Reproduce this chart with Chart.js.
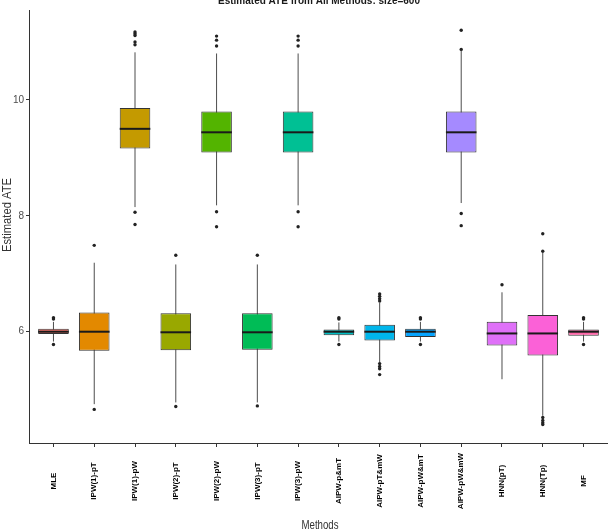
<!DOCTYPE html>
<html>
<head>
<meta charset="utf-8">
<script src="https://cdn.jsdelivr.net/npm/chart.js@4.4.0/dist/chart.umd.min.js"></script>
<style>
  html, body { margin: 0; padding: 0; background: #fff; overflow: hidden; }
  #wrap { position: relative; width: 612px; height: 540px; }
</style>
</head>
<body>
<div id="wrap"><canvas id="myChart"></canvas></div>
<script>
// categories
var methods = ['MLE', 'IPW(1)-pT', 'IPW(1)-pW', 'IPW(2)-pT', 'IPW(2)-pW', 'IPW(3)-pT', 'IPW(3)-pW',
               'AIPW-p&mT', 'AIPW-pT&mW', 'AIPW-pW&mT', 'AIPW-pW&mW', 'HNN(pT)', 'HNN(Tp)', 'MF'];

// box statistics
var lowWhisker  = [5.83, 4.75, 8.15, 4.78, 8.18, 4.78, 8.18, 5.83, 5.47, 5.83, 8.22, 5.18, 4.55, 5.83];
var q1          = [5.96, 5.67, 9.16, 5.68, 9.09, 5.69, 9.09, 5.94, 5.85, 5.91, 9.09, 5.76, 5.59, 5.93];
var medians     = [6.00, 6.00, 9.50, 5.99, 9.44, 5.99, 9.44, 6.00, 6.00, 6.00, 9.44, 5.97, 5.97, 6.00];
var q3          = [6.05, 6.33, 9.86, 6.32, 9.80, 6.32, 9.80, 6.04, 6.12, 6.05, 9.80, 6.17, 6.29, 6.04];
var highWhisker = [6.17, 7.19, 10.82, 7.16, 10.80, 7.16, 10.80, 6.16, 6.50, 6.17, 10.85, 6.68, 7.39, 6.17];

var outliers = [
  [6.22, 6.24, 5.78],
  [7.49, 4.66],
  [11.17, 11.14, 11.11, 11.00, 10.95, 8.06, 7.85],
  [7.32, 4.71],
  [11.10, 11.03, 10.93, 8.07, 7.81],
  [7.32, 4.72],
  [11.10, 11.03, 10.93, 8.07, 7.81],
  [6.22, 6.24, 5.78],
  [6.53, 6.57, 6.61, 6.65, 5.45, 5.40, 5.36, 5.26],
  [6.22, 6.24, 5.78],
  [11.20, 10.87, 8.04, 7.83],
  [6.81],
  [7.69, 7.39, 4.52, 4.47, 4.43, 4.40],
  [6.22, 6.24, 5.78]
];

var yTicks = [6, 8, 10];

var fills = ['#F8766D', '#E38900', '#C49A00', '#99A800', '#53B400', '#00BC56', '#00C094',
             '#00BFC4', '#00B6EB', '#06A4FF', '#A58AFF', '#DF70F8', '#FB61D7', '#FF66A8'];

var sans = '"Liberation Sans", Arial, sans-serif';

var outlierPoints = [];
outliers.forEach(function (list, i) {
  list.forEach(function (v) { outlierPoints.push({ x: i, y: v }); });
});

// text squeezed to a given width, like the reference's narrow lettering
function squeezedText(ctx, text, x, y, width, angle) {
  ctx.save();
  ctx.translate(x, y);
  if (angle) ctx.rotate(angle);
  var w = ctx.measureText(text).width;
  ctx.scale(Math.min(1, width / w), 1);
  ctx.fillText(text, 0, 0);
  ctx.restore();
}

var boxExtras = {
  id: 'boxExtras',
  beforeDatasetsDraw: function (chart) {
    var ctx = chart.ctx, xs = chart.scales.x, ys = chart.scales.y;
    ctx.save();
    ctx.strokeStyle = '#4d4d4d';
    ctx.lineWidth = 1;
    methods.forEach(function (m, i) {
      var x = xs.getPixelForValue(i);
      ctx.beginPath();
      ctx.moveTo(x, ys.getPixelForValue(lowWhisker[i]));
      ctx.lineTo(x, ys.getPixelForValue(highWhisker[i]));
      ctx.stroke();
    });
    ctx.restore();
  },
  afterDatasetsDraw: function (chart) {
    var ctx = chart.ctx, xs = chart.scales.x, ys = chart.scales.y;
    var bars = chart.getDatasetMeta(0).data;
    ctx.save();
    ctx.strokeStyle = '#1a1a1a';
    ctx.lineWidth = 2;
    methods.forEach(function (m, i) {
      var x = xs.getPixelForValue(i), w = bars[i].width / 2;
      var y = ys.getPixelForValue(medians[i]);
      ctx.beginPath();
      ctx.moveTo(x - w, y);
      ctx.lineTo(x + w, y);
      ctx.stroke();
    });
    ctx.restore();
  },
  afterDraw: function (chart) {
    var ctx = chart.ctx, xs = chart.scales.x;
    ctx.save();
    // rotated method labels, centred on a common line
    ctx.fillStyle = '#000';
    ctx.font = 'bold 8px ' + sans;
    ctx.textAlign = 'center';
    ctx.textBaseline = 'middle';
    methods.forEach(function (m, i) {
      ctx.save();
      ctx.translate(xs.getPixelForValue(i), 481);
      ctx.rotate(-Math.PI / 2);
      ctx.fillText(m, 0, 0);
      ctx.restore();
    });
    // title (cut off at the top edge)
    ctx.fillStyle = '#1a1a1a';
    ctx.textBaseline = 'alphabetic';
    ctx.font = 'bold 11px ' + sans;
    squeezedText(ctx, 'Estimated ATE from All Methods: size=600', 319, 4, 202, 0);
    // axis titles
    ctx.fillStyle = '#333';
    ctx.font = '13px ' + sans;
    ctx.textBaseline = 'middle';
    squeezedText(ctx, 'Methods', 320, 525, 37, 0);
    ctx.font = '12px ' + sans;
    squeezedText(ctx, 'Estimated ATE', 8, 215, 74, -Math.PI / 2);
    ctx.restore();
  }
};

var canvas = document.getElementById('myChart');
new Chart(canvas, {
  type: 'bar',
  data: {
    datasets: [{
      type: 'bar',
      data: methods.map(function (m, i) { return { x: i, y: [q1[i], q3[i]] }; }),
      backgroundColor: fills,
      borderColor: '#333333',
      borderWidth: 1,
      borderSkipped: false,
      barPercentage: 0.75,
      categoryPercentage: 1,
      grouped: false
    }, {
      type: 'scatter',
      data: outlierPoints,
      pointRadius: 1.7,
      pointBackgroundColor: '#222',
      pointBorderWidth: 0
    }]
  },
  options: {
    responsive: true,
    maintainAspectRatio: false,
    animation: false,
    layout: { padding: { top: 10, right: 1, bottom: 93, left: 0 } },
    plugins: { legend: { display: false }, tooltip: { enabled: false }, title: { display: false } },
    scales: {
      x: {
        type: 'linear',
        min: -0.6,
        max: 13.6,
        offset: false,
        afterBuildTicks: function (scale) {
          scale.ticks = methods.map(function (m, i) { return { value: i }; });
        },
        ticks: { display: false },
        grid: { offset: false, drawOnChartArea: false, drawTicks: true, tickLength: 4, color: '#333' },
        border: { display: true, color: '#333', width: 1 }
      },
      y: {
        min: 4.08,
        max: 11.55,
        afterBuildTicks: function (scale) {
          scale.ticks = yTicks.map(function (v) { return { value: v }; });
        },
        afterFit: function (scale) { scale.width = 29; },
        ticks: { color: '#4d4d4d', font: { family: sans, size: 10 }, padding: 2 },
        grid: { drawOnChartArea: false, drawTicks: true, tickLength: 3, color: '#333' },
        border: { display: true, color: '#333', width: 1 }
      }
    }
  },
  plugins: [boxExtras]
});
</script>
</body>
</html>
